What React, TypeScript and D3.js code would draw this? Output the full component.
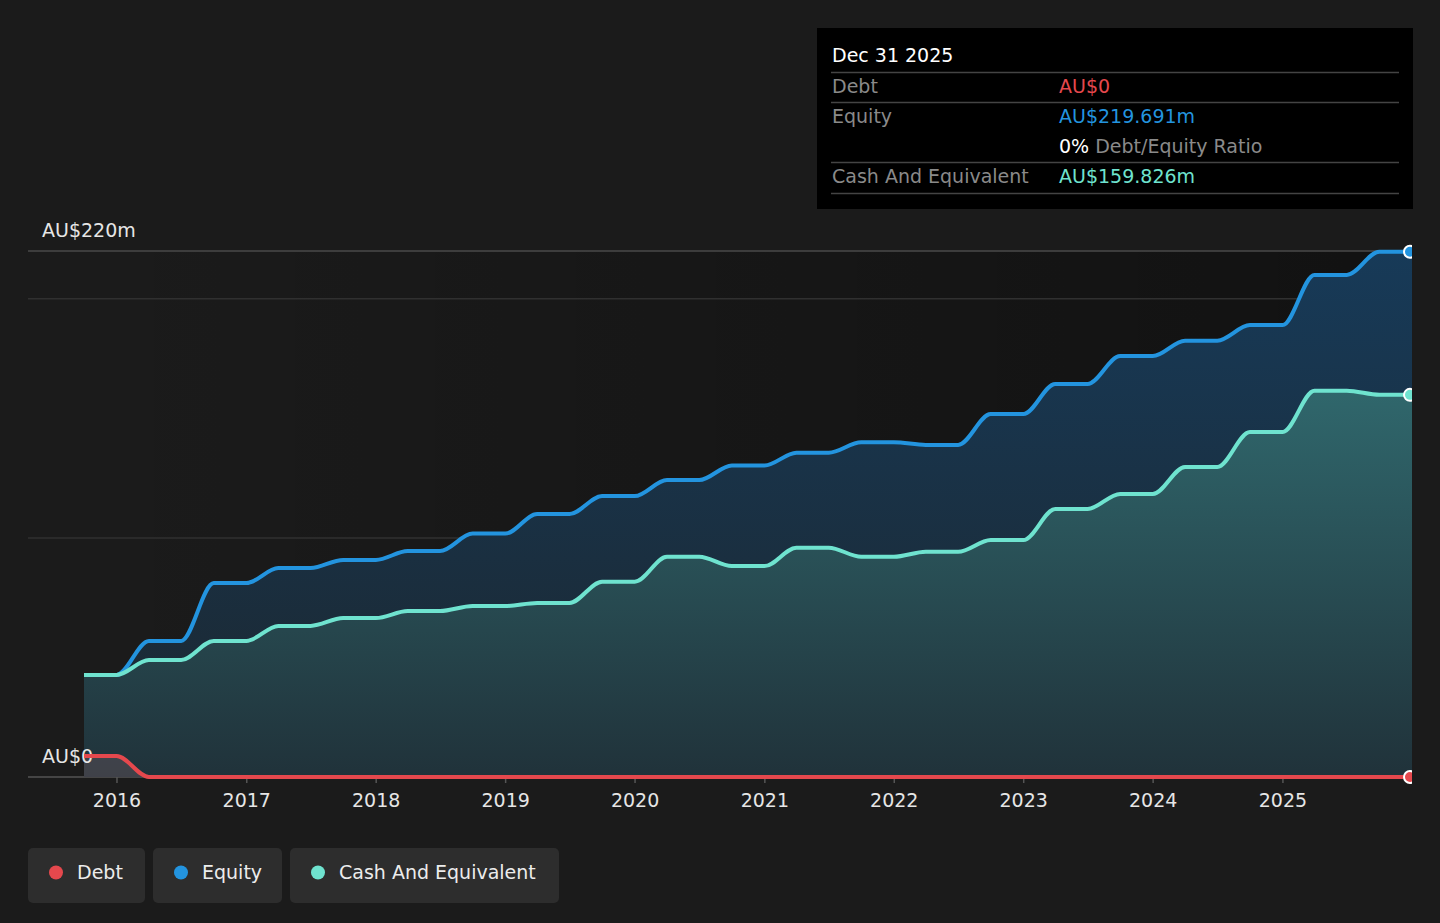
import * as d3 from 'd3'

const dates = [
  '2015-09-30', '2015-12-31',
  '2016-03-31', '2016-06-30', '2016-09-30', '2016-12-31',
  '2017-03-31', '2017-06-30', '2017-09-30', '2017-12-31',
  '2018-03-31', '2018-06-30', '2018-09-30', '2018-12-31',
  '2019-03-31', '2019-06-30', '2019-09-30', '2019-12-31',
  '2020-03-31', '2020-06-30', '2020-09-30', '2020-12-31',
  '2021-03-31', '2021-06-30', '2021-09-30', '2021-12-31',
  '2022-03-31', '2022-06-30', '2022-09-30', '2022-12-31',
  '2023-03-31', '2023-06-30', '2023-09-30', '2023-12-31',
  '2024-03-31', '2024-06-30', '2024-09-30', '2024-12-31',
  '2025-03-31', '2025-06-30', '2025-09-30', '2025-12-31',
]

// values in AU$ millions
const debt = [
  8.8, 8.8,
  0, 0, 0, 0,
  0, 0, 0, 0,
  0, 0, 0, 0,
  0, 0, 0, 0,
  0, 0, 0, 0,
  0, 0, 0, 0,
  0, 0, 0, 0,
  0, 0, 0, 0,
  0, 0, 0, 0,
  0, 0, 0, 0,
]
const equity = [
  42.7, 42.7,
  56.9, 56.9, 81.1, 81.1,
  87.4, 87.4, 90.8, 90.8,
  94.5, 94.5, 101.8, 101.8,
  110.0, 110.0, 117.5, 117.5,
  124.2, 124.2, 130.3, 130.3,
  135.6, 135.6, 140.0, 140.0,
  138.9, 138.9, 151.8, 151.8,
  164.4, 164.4, 176.1, 176.1,
  182.5, 182.5, 189.0, 189.0,
  210.0, 210.0, 219.7, 219.691,
]
const cash = [
  42.7, 42.7,
  48.9, 48.9, 56.9, 56.9,
  63.2, 63.2, 66.5, 66.5,
  69.4, 69.4, 71.5, 71.5,
  72.8, 72.8, 81.7, 81.7,
  92.1, 92.1, 88.2, 88.2,
  95.9, 95.9, 92.1, 92.1,
  94.2, 94.2, 99.1, 99.1,
  112.1, 112.1, 118.4, 118.4,
  129.7, 129.7, 144.3, 144.3,
  161.6, 161.6, 159.9, 159.826,
]

const xTickYears = [2016, 2017, 2018, 2019, 2020, 2021, 2022, 2023, 2024, 2025]
const gridValues = [100, 200, 220]

const COLORS = { debt: '#e5484d', equity: '#2394df', cash: '#6fe3cf' }
const FONT = '"DejaVu Sans", sans-serif'

type Pt = { date: Date; v: number }

export default function App() {
  const width = 1440
  const height = 923
  const plot = { left: 84, right: 1412, top: 251, bottom: 777, axisLeft: 28 }

  const parse = d3.utcParse('%Y-%m-%d')
  const ds = dates.map((d) => parse(d)!)
  const toPts = (vals: number[]): Pt[] => vals.map((v, i) => ({ date: ds[i], v }))
  const debtPts = toPts(debt)
  const equityPts = toPts(equity)
  const cashPts = toPts(cash)

  const x = d3.scaleUtc().domain([ds[0], ds[ds.length - 1]]).range([plot.left, plot.right])
  const y = d3.scaleLinear().domain([0, 220]).range([plot.bottom, plot.top])

  const line = d3
    .line<Pt>()
    .x((d) => x(d.date))
    .y((d) => y(d.v))
    .curve(d3.curveMonotoneX)
  const area = d3
    .area<Pt>()
    .x((d) => x(d.date))
    .y0(y(0))
    .y1((d) => y(d.v))
    .curve(d3.curveMonotoneX)

  const last = ds.length - 1

  const legend = [
    { label: 'Debt', color: COLORS.debt, x: 28, w: 117 },
    { label: 'Equity', color: COLORS.equity, x: 153, w: 129 },
    { label: 'Cash And Equivalent', color: COLORS.cash, x: 290, w: 269 },
  ]

  return (
    <div style={{ position: 'absolute', left: 0, top: 0, width, height, background: '#1b1b1b' }}>
      <svg width={width} height={height} fontFamily={FONT}>
        <defs>
          <linearGradient id="bgGrad" x1="0" x2="1" y1="0" y2="0">
            <stop offset="0" stopColor="#000" stopOpacity={0} />
            <stop offset="1" stopColor="#000" stopOpacity={0.35} />
          </linearGradient>
          <linearGradient id="eqGrad" gradientUnits="userSpaceOnUse" x1="0" x2="0" y1={plot.top} y2={plot.bottom}>
            <stop offset="0" stopColor="#173a58" />
            <stop offset="1" stopColor="#1c272f" />
          </linearGradient>
          <linearGradient id="cashGrad" gradientUnits="userSpaceOnUse" x1="0" x2="0" y1={y(165)} y2={plot.bottom}>
            <stop offset="0" stopColor="#30686d" />
            <stop offset="1" stopColor="#20323a" />
          </linearGradient>
          <clipPath id="plotClip">
            <rect x={plot.axisLeft} y={0} width={plot.right - plot.axisLeft} height={plot.bottom + 12} />
          </clipPath>
        </defs>

        {/* darker band behind the data range */}
        <rect
          x={plot.left}
          y={plot.top}
          width={plot.right - plot.left}
          height={plot.bottom - plot.top}
          fill="url(#bgGrad)"
        />

        {/* grid */}
        {gridValues.map((g) => (
          <line
            key={g}
            x1={plot.axisLeft}
            x2={plot.right}
            y1={y(g)}
            y2={y(g)}
            stroke={g === 220 ? '#4a4a4a' : '#303030'}
            strokeWidth={1.5}
          />
        ))}

        {/* x axis */}
        <line x1={plot.axisLeft} x2={plot.right} y1={y(0)} y2={y(0)} stroke="#555" strokeWidth={1.5} />
        {xTickYears.map((yr) => {
          const tx = x(new Date(Date.UTC(yr, 0, 1)))
          return (
            <g key={yr} transform={`translate(${tx},${y(0)})`}>
              <line y2={6} stroke="#555" strokeWidth={1.5} />
              <text y={30} textAnchor="middle" fill="#e6e6e6" fontSize={19}>
                {yr}
              </text>
            </g>
          )
        })}

        <g clipPath="url(#plotClip)">
          <path d={area(equityPts)!} fill="url(#eqGrad)" />
          <path d={area(cashPts)!} fill="url(#cashGrad)" />
          <path d={area(debtPts)!} fill="#5a4f55" fillOpacity={0.55} />
        </g>

        {/* y labels sit above the areas, below the lines */}
        <text x={42} y={y(220) - 14} fill="#e6e6e6" fontSize={19}>
          AU$220m
        </text>
        <text x={42} y={y(0) - 14} fill="#e6e6e6" fontSize={19}>
          AU$0
        </text>

        <g clipPath="url(#plotClip)">
          <path d={line(equityPts)!} fill="none" stroke={COLORS.equity} strokeWidth={4} />
          <path d={line(cashPts)!} fill="none" stroke={COLORS.cash} strokeWidth={4} />
          <path d={line(debtPts)!} fill="none" stroke={COLORS.debt} strokeWidth={4} />

          {[
            { pts: equityPts, c: COLORS.equity },
            { pts: cashPts, c: COLORS.cash },
            { pts: debtPts, c: COLORS.debt },
          ].map(({ pts, c }) => (
            <circle
              key={c}
              cx={x(pts[last].date) - 2}
              cy={y(pts[last].v)}
              r={6}
              fill={c}
              stroke="#fff"
              strokeWidth={2}
            />
          ))}
        </g>

        {/* tooltip */}
        <g fontSize={19}>
          <rect x={817} y={28} width={596} height={181} fill="#000" />
          <text x={832} y={62} fill="#fff">
            Dec 31 2025
          </text>
          {[72.5, 102.5, 162.5, 193.5].map((ly) => (
            <line key={ly} x1={831} x2={1399} y1={ly} y2={ly} stroke="#444" strokeWidth={1.5} />
          ))}
          <text x={832} y={93} fill="#8a8a8a">
            Debt
          </text>
          <text x={1059} y={93} fill={COLORS.debt}>
            AU${debt[last]}
          </text>
          <text x={832} y={123} fill="#8a8a8a">
            Equity
          </text>
          <text x={1059} y={123} fill={COLORS.equity}>
            AU${equity[last].toFixed(3)}m
          </text>
          <text x={1059} y={153} fill="#8a8a8a">
            <tspan fill="#fff">{Math.round((debt[last] / equity[last]) * 100)}%</tspan> Debt/Equity Ratio
          </text>
          <text x={832} y={183} fill="#8a8a8a">
            Cash And Equivalent
          </text>
          <text x={1059} y={183} fill={COLORS.cash}>
            AU${cash[last].toFixed(3)}m
          </text>
        </g>

        {/* legend */}
        {legend.map((l) => (
          <g key={l.label} transform={`translate(${l.x},848)`}>
            <rect width={l.w} height={55} rx={5} fill="#2d2d2d" />
            <circle cx={28} cy={24.5} r={7} fill={l.color} />
            <text x={49} y={31} fill="#ececec" fontSize={19}>
              {l.label}
            </text>
          </g>
        ))}
      </svg>
    </div>
  )
}
